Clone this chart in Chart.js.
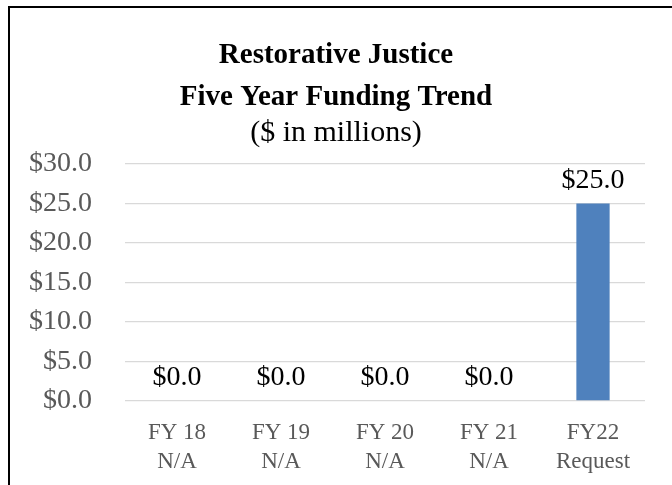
<!DOCTYPE html>
<html>
<head>
<meta charset="utf-8">
<script src="https://cdn.jsdelivr.net/npm/chart.js@4"></script>
<style>
  html, body { margin: 0; padding: 0; background: #fff; overflow: hidden; }
  #wrap { position: relative; width: 672px; height: 485px; }
  #frame {
    position: absolute; left: 8px; top: 6px; width: 700px; height: 520px;
    border: 2px solid #000; pointer-events: none;
  }
</style>
</head>
<body>
<div id="wrap">
  <canvas id="myChart" width="672" height="485"></canvas>
  <div id="frame"></div>
</div>
<script>
const years = [['FY 18', 'N/A'], ['FY 19', 'N/A'], ['FY 20', 'N/A'], ['FY 21', 'N/A'], ['FY22', 'Request']];
const funding = [0, 0, 0, 0, 25];
const yTicks = [0, 5, 10, 15, 20, 25, 30];

const serif = "'Liberation Serif', 'Times New Roman', serif";
const money = v => '$' + Number(v).toFixed(1);

// value labels above each bar
const barLabels = {
    id: 'barLabels',
    afterDatasetsDraw(chart) {
        const ctx = chart.ctx;
        const meta = chart.getDatasetMeta(0);
        ctx.save();
        ctx.font = '28px ' + serif;
        ctx.fillStyle = '#000';
        ctx.textAlign = 'center';
        ctx.textBaseline = 'alphabetic';
        meta.data.forEach((bar, i) => {
            ctx.fillText(money(funding[i]), bar.x, bar.y - 16);
        });
        ctx.restore();
    }
};

const ctx = document.getElementById('myChart').getContext('2d');

const myChart = new Chart(ctx, {
    type: 'bar',
    data: {
        labels: years,
        datasets: [{
            data: funding,
            backgroundColor: '#4F81BD',
            borderWidth: 0,
            barPercentage: 0.32,
            categoryPercentage: 1
        }]
    },
    options: {
        responsive: false,
        maintainAspectRatio: false,
        animation: false,
        layout: {
            padding: {left: 27, right: 27, top: 34, bottom: 8}
        },
        scales: {
            x: {
                grid: {display: false, drawTicks: false},
                border: {display: false},
                afterFit: axis => { axis.height = 76; },
                ticks: {
                    color: '#595959',
                    padding: 18,
                    font: {family: serif, size: 23, lineHeight: 1.25}
                }
            },
            y: {
                min: yTicks[0],
                max: yTicks[yTicks.length - 1],
                afterBuildTicks: axis => {
                    axis.ticks = yTicks.map(v => ({value: v}));
                },
                afterFit: axis => { axis.width = 98; },
                grid: {color: '#d9d9d9', lineWidth: 1.3, drawTicks: false},
                border: {display: false},
                ticks: {
                    color: '#595959',
                    padding: 33,
                    callback: v => money(v),
                    font: {family: serif, size: 28}
                }
            }
        },
        plugins: {
            legend: {display: false},
            tooltip: {enabled: false},
            title: {
                display: true,
                text: ['Restorative Justice', 'Five Year Funding Trend'],
                color: '#000',
                font: {family: serif, size: 29, weight: 'bold', lineHeight: 1.45},
                padding: {top: 0, bottom: 0}
            },
            subtitle: {
                display: true,
                text: '($ in millions)',
                color: '#000',
                font: {family: serif, size: 30, lineHeight: 1.0},
                padding: {top: 0, bottom: 16}
            }
        }
    },
    plugins: [barLabels]
});
</script>
</body>
</html>
